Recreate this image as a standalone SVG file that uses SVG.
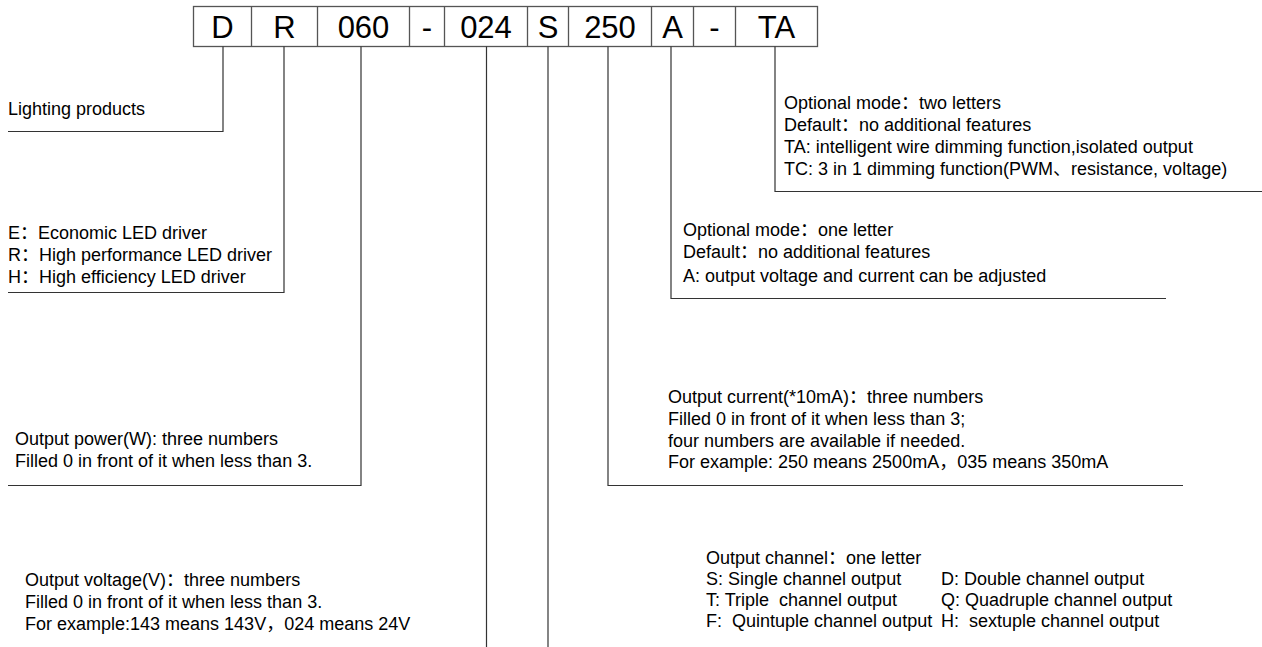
<svg xmlns="http://www.w3.org/2000/svg" width="1262" height="647" viewBox="0 0 1262 647">
<style>
.bg{fill:#fff}
.box{fill:#fff;stroke:#555;stroke-width:1.3}
.code{font-family:"Liberation Sans",Arial,"Noto Sans CJK SC",sans-serif;font-size:31px;fill:#000;text-anchor:middle}
.t{font-family:"Liberation Sans",Arial,"Noto Sans CJK SC",sans-serif;font-size:18px;fill:#000;white-space:pre}
.ln{fill:none;stroke:#333;stroke-width:1.2}
</style>
<rect class="bg" x="0" y="0" width="1262" height="647"/>
<g id="code">
<rect class="box" x="193.5" y="6.5" width="624" height="40"/>
<line class="box" x1="251.5" y1="6.5" x2="251.5" y2="46.5"/>
<line class="box" x1="317.5" y1="6.5" x2="317.5" y2="46.5"/>
<line class="box" x1="409.5" y1="6.5" x2="409.5" y2="46.5"/>
<line class="box" x1="444.5" y1="6.5" x2="444.5" y2="46.5"/>
<line class="box" x1="527.5" y1="6.5" x2="527.5" y2="46.5"/>
<line class="box" x1="568.5" y1="6.5" x2="568.5" y2="46.5"/>
<line class="box" x1="651.5" y1="6.5" x2="651.5" y2="46.5"/>
<line class="box" x1="693.5" y1="6.5" x2="693.5" y2="46.5"/>
<line class="box" x1="735.5" y1="6.5" x2="735.5" y2="46.5"/>
<text class="code" x="222.5" y="38">D</text>
<text class="code" x="284.5" y="38">R</text>
<text class="code" x="363.5" y="38">060</text>
<text class="code" x="427" y="38">-</text>
<text class="code" x="486" y="38">024</text>
<text class="code" x="548" y="38">S</text>
<text class="code" x="610" y="38">250</text>
<text class="code" x="672.5" y="38">A</text>
<text class="code" x="714.5" y="38">-</text>
<text class="code" x="776.5" y="38">TA</text>
</g>
<g id="connectors">
<polyline class="ln" points="223,46.5 223,131.5 8,131.5"/>
<polyline class="ln" points="284,46.5 284,292.5 8,292.5"/>
<polyline class="ln" points="361,46.5 361,485.5 8,485.5"/>
<line class="ln" x1="486.5" y1="46.5" x2="486.5" y2="647"/>
<line class="ln" x1="548" y1="46.5" x2="548" y2="647"/>
<polyline class="ln" points="608,46.5 608,485.5 1183,485.5"/>
<polyline class="ln" points="671,46.5 671,298.5 1166,298.5"/>
<polyline class="ln" points="775,46.5 775,191.5 1262,191.5"/>
</g>
<g id="n-lighting">
<text class="t" x="8" y="115">Lighting products</text>
</g>
<g id="n-type">
<text class="t" x="8" y="239">E：Economic LED driver</text>
<text class="t" x="8" y="261">R：High performance LED driver</text>
<text class="t" x="8" y="283">H：High efficiency LED driver</text>
</g>
<g id="n-power">
<text class="t" x="15" y="445">Output power(W): three numbers</text>
<text class="t" x="15" y="467">Filled 0 in front of it when less than 3.</text>
</g>
<g id="n-voltage">
<text class="t" x="25" y="586">Output voltage(V)：three numbers</text>
<text class="t" x="25" y="608">Filled 0 in front of it when less than 3.</text>
<text class="t" x="25" y="630">For example:143 means 143V，024 means 24V</text>
</g>
<g id="n-twoletter">
<text class="t" x="784" y="109">Optional mode：two letters</text>
<text class="t" x="784" y="131">Default：no additional features</text>
<text class="t" x="784" y="153">TA: intelligent wire dimming function,isolated output</text>
<text class="t" x="784" y="175">TC: 3 in 1 dimming function(PWM、resistance, voltage)</text>
</g>
<g id="n-oneletter">
<text class="t" x="683" y="236">Optional mode：one letter</text>
<text class="t" x="683" y="258">Default：no additional features</text>
<text class="t" x="683" y="282">A: output voltage and current can be adjusted</text>
</g>
<g id="n-current">
<text class="t" x="668" y="403">Output current(*10mA)：three numbers</text>
<text class="t" x="668" y="425">Filled 0 in front of it when less than 3;</text>
<text class="t" x="668" y="447">four numbers are available if needed.</text>
<text class="t" x="668" y="468">For example: 250 means 2500mA，035 means 350mA</text>
</g>
<g id="n-channel">
<text class="t" x="706" y="564">Output channel：one letter</text>
<text class="t" x="706" y="585">S: Single channel output</text>
<text class="t" x="941" y="585">D: Double channel output</text>
<text class="t" x="706" y="606">T: Triple  channel output</text>
<text class="t" x="941" y="606">Q: Quadruple channel output</text>
<text class="t" x="706" y="627">F:  Quintuple channel output</text>
<text class="t" x="941" y="627">H:  sextuple channel output</text>
</g>
</svg>
